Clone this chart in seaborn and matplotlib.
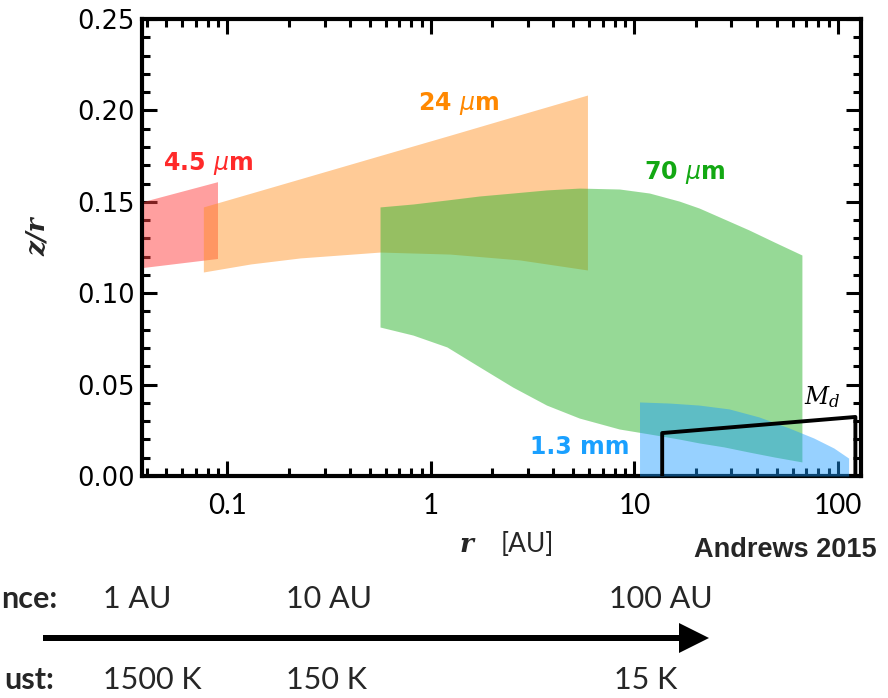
import numpy as np
import pandas as pd
import matplotlib
matplotlib.use('Agg')
import matplotlib.pyplot as plt
import seaborn as sns
from matplotlib.patches import FancyArrow
from matplotlib.ticker import MultipleLocator, LogLocator, NullFormatter, FuncFormatter, FixedLocator

# ---------------- data ----------------
red_r = [0.038, 0.0893]
red_top = [0.150, 0.161]
red_bot = [0.114, 0.119]

orange_r = [0.0761, 0.130, 0.228, 0.562, 1.24, 2.73, 5.88]
orange_top = [0.1472, 0.1547, 0.1626, 0.1753, 0.1864, 0.1976, 0.2084]
orange_bot = [0.1116, 0.1160, 0.1193, 0.1225, 0.1214, 0.1182, 0.1127]

green_r = [0.562, 0.816, 1.198, 1.738, 2.52, 3.70, 5.36, 8.44, 11.85, 16.6,
           20.8, 27.6, 36.6, 48.7, 66.6]
green_top = [0.1472, 0.1488, 0.1510, 0.1532, 0.1548, 0.1565, 0.1575, 0.1570,
             0.1548, 0.1504, 0.1466, 0.1406, 0.1346, 0.1280, 0.1209]
green_bot = [0.0815, 0.0771, 0.0706, 0.0596, 0.0487, 0.0388, 0.0317, 0.0257,
             0.0230, 0.0202, 0.0181, 0.0159, 0.0131, 0.0104, 0.0077]

blue_r = [10.6, 14.9, 20.8, 29.2, 41.0, 57.5, 76.1, 95.6, 113.0]
blue_top = [0.0405, 0.0399, 0.0388, 0.0367, 0.0323, 0.0263, 0.0208, 0.0153, 0.0098]
blue_bot = [0.0, 0.0, 0.0, 0.0, 0.0, 0.0, 0.0, 0.0, 0.0]

md_r = [13.7, 13.7, 122.0, 122.0]
md_z = [0.0, 0.0235, 0.0323, 0.0]

band_labels = ['4.5 $\\mu$m', '24 $\\mu$m', '70 $\\mu$m', '1.3 mm']
band_label_r = [0.0806, 1.37, 17.6, 5.38]
band_label_z = [0.171, 0.204, 0.166, 0.0159]

x_tick_vals = [0.1, 1, 10, 100]
y_tick_vals = [0.00, 0.05, 0.10, 0.15, 0.20, 0.25]

dist_labels = ['1 AU', '10 AU', '100 AU']
temp_labels = ['1500 K', '150 K', '15 K']

# ---------------- styling ----------------
sns.set_theme(style='ticks')
plt.rcParams['font.family'] = ['DejaVu Sans']
plt.rcParams['mathtext.fontset'] = 'dejavusans'

W, H = 888, 698
fig = plt.figure(figsize=(W / 100, H / 100), dpi=100)
ax = fig.add_axes([142 / W, 1 - 476 / H, (861 - 142) / W, (476 - 19) / H])

fill_cols = ['#ff4040', '#ff8c1a', '#2fb52f', '#1a9bff']
text_cols = ['#ff2a2a', '#ff8800', '#13a813', '#1aa0ff']

ax.fill_between(red_r, red_bot, red_top, color=fill_cols[0], alpha=0.5, lw=0, zorder=1)
ax.fill_between(orange_r, orange_bot, orange_top, color=fill_cols[1], alpha=0.45, lw=0, zorder=2)
ax.fill_between(green_r, green_bot, green_top, color=fill_cols[2], alpha=0.5, lw=0, zorder=3)
ax.fill_between(blue_r, blue_bot, blue_top, color=fill_cols[3], alpha=0.45, lw=0, zorder=4)

md_df = pd.DataFrame({'r': md_r, 'z': md_z})
sns.lineplot(data=md_df, x='r', y='z', sort=False, estimator=None, color='black',
             lw=2.8, ax=ax, zorder=6)
ax.text(84, 0.043, r'$M_d$', math_fontfamily='dejavuserif', fontsize=17,
        ha='center', va='center', color='black', zorder=7)

for lab, rr, zz, c in zip(band_labels, band_label_r, band_label_z, text_cols):
    ax.text(rr, zz, lab, color=c, fontsize=17, fontweight='bold',
            ha='center', va='center', zorder=7)

ax.set_xscale('log')
ax.set_xlim(0.038, 130)
ax.set_ylim(0, 0.25)
ax.xaxis.set_major_locator(FixedLocator(x_tick_vals))
ax.xaxis.set_major_formatter(FuncFormatter(lambda v, p: f'{v:g}'))
ax.xaxis.set_minor_locator(LogLocator(base=10, subs=np.arange(2, 10)))
ax.xaxis.set_minor_formatter(NullFormatter())
ax.yaxis.set_major_locator(FixedLocator(y_tick_vals))
ax.yaxis.set_major_formatter(FuncFormatter(lambda v, p: f'{v:.2f}'))
ax.yaxis.set_minor_locator(MultipleLocator(0.01))
ax.set_xlabel('')
ax.set_ylabel('')

ax.tick_params(which='both', direction='in', top=True, right=True, width=2.2,
               color='black', labelcolor='black')
ax.tick_params(which='major', length=11, labelsize=18.5)
ax.tick_params(which='minor', length=5.5)
ax.tick_params(axis='x', which='major', pad=12, labelfontfamily='Lato', labelsize=20)
ax.tick_params(axis='y', which='major', pad=5)
for s in ax.spines.values():
    s.set_linewidth(3.0)
    s.set_color('black')
ax.set_facecolor('white')

# axis titles
fig.text(37 / W, 1 - 237 / H, 'z/r', rotation=90, family='DejaVu Serif', style='italic',
         weight='bold', fontsize=19, ha='center', va='center')
fig.text(466 / W, 1 - 545 / H, 'r', family='DejaVu Serif', style='italic', weight='bold',
         fontsize=19, ha='center', va='center')
fig.text(527 / W, 1 - 545 / H, '[AU]', family='Lato', fontsize=19, ha='center', va='center')
fig.text(694 / W, 1 - 550 / H, 'Andrews 2015', family='Liberation Sans', weight='bold',
         fontsize=19.5, ha='left', va='center')

# distance / temperature scale below (left words are cropped in the reference)
row1_y = 1 - 599 / H
row2_y = 1 - 680 / H
fig.text(57 / W, row1_y, 'nce:', family='Lato', weight='bold', fontsize=22,
         ha='right', va='center')
fig.text(54 / W, row2_y, 'ust:', family='Lato', weight='bold', fontsize=22,
         ha='right', va='center')
for lab, xp in zip(dist_labels, [103, 286, 609]):
    fig.text(xp / W, row1_y, lab, family='Lato', fontsize=22, ha='left', va='center')
for lab, xp in zip(temp_labels, [103, 286, 614]):
    fig.text(xp / W, row2_y, lab, family='Lato', fontsize=22, ha='left', va='center')

fig.add_artist(FancyArrow(43 / W, 1 - 638 / H, (709 - 43) / W, 0, width=6 / H,
                          head_width=30 / H, head_length=30 / W, length_includes_head=True,
                          transform=fig.transFigure, color='black', lw=0))

fig.savefig('out.png', dpi=100)
